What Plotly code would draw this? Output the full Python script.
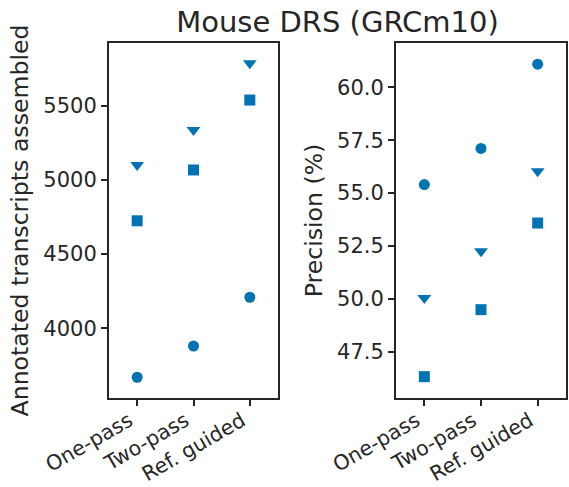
import plotly.graph_objects as go
from plotly.subplots import make_subplots

methods = ["One-pass", "Two-pass", "Ref. guided"]
# Annotated transcripts assembled
tx_circle = [3669, 3880, 4209]
tx_triangle = [5101, 5338, 5789]
tx_square = [4725, 5068, 5540]
# Precision (%)
pr_circle = [55.40, 57.11, 61.10]
pr_triangle = [50.03, 52.24, 56.03]
pr_square = [46.31, 49.48, 53.58]

BLUE = "#0173b2"
INK = "#262626"
FONT = "DejaVu Sans"

fig = make_subplots(rows=1, cols=2)

def add(col, ys, symbol, size):
    fig.add_trace(go.Scatter(x=methods, y=ys, mode="markers",
                             marker=dict(color=BLUE, symbol=symbol, size=size, line=dict(width=0)),
                             showlegend=False), row=1, col=col)

add(1, tx_circle, "circle", 11)
add(1, tx_triangle, "triangle-down", 12)
add(1, tx_square, "square", 11)
add(2, pr_circle, "circle", 11)
add(2, pr_triangle, "triangle-down", 12)
add(2, pr_square, "square", 11)

W, H = 569, 487
L, R, T, B = 109, 3, 43, 89
pw = W - L - R
left_end = (278 - L) / pw
right_start = (396 - L) / pw

TICK_SIZE = 21
LABEL_SIZE = 23.6

axis_common = dict(showline=True, linecolor=INK, linewidth=2, mirror=True,
                   ticks="outside", ticklen=6, tickwidth=2, tickcolor=INK,
                   showgrid=False, zeroline=False, automargin=False,
                   tickfont=dict(family=FONT, size=TICK_SIZE, color=INK))

fig.update_xaxes(**axis_common, tickangle=-30, range=[-0.5, 2.5],
                 ticklabelshift=-8, ticklabelstandoff=-5)
fig.update_xaxes(tickfont=dict(family=FONT, size=20.5, color=INK))
fig.update_xaxes(domain=[0, left_end], row=1, col=1)
fig.update_xaxes(domain=[right_start, 1], row=1, col=2)

fig.update_yaxes(**axis_common)
fig.update_yaxes(range=[3529, 5925], tickvals=[4000, 4500, 5000, 5500],
                 title=dict(text="Annotated transcripts assembled", standoff=8,
                            font=dict(family=FONT, size=LABEL_SIZE, color=INK)), row=1, col=1)
fig.update_yaxes(range=[45.3, 62.1], tickvals=[47.5, 50.0, 52.5, 55.0, 57.5, 60.0],
                 tickformat=".1f",
                 title=dict(text="Precision (%)", standoff=8,
                            font=dict(family=FONT, size=LABEL_SIZE, color=INK)), row=1, col=2)

fig.update_layout(
    width=W, height=H,
    margin=dict(l=L, r=R, t=T, b=B, autoexpand=False),
    plot_bgcolor="white", paper_bgcolor="white",
    font=dict(family=FONT, color=INK),
    title=dict(text="Mouse DRS (GRCm10)", x=0.5, xref="paper",
               y=1 - 22 / H, yref="container", yanchor="middle", xanchor="center",
               font=dict(family=FONT, size=29, color=INK)),
)

fig.write_html("out.html")
